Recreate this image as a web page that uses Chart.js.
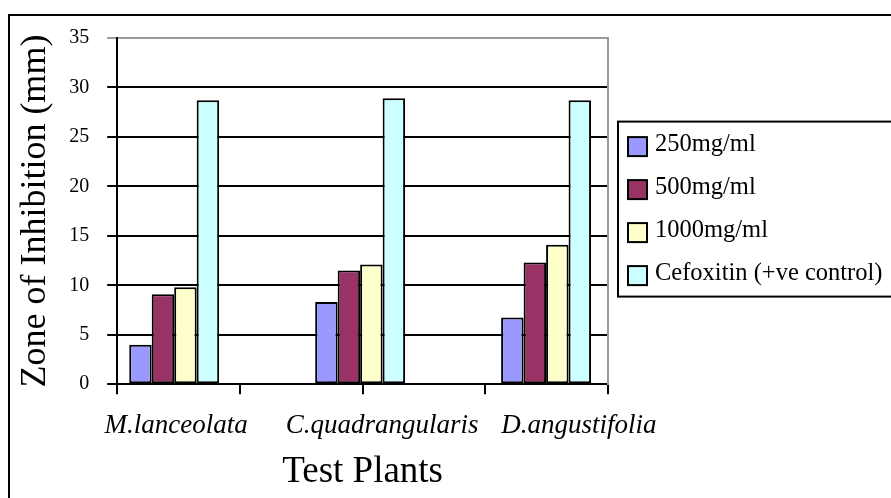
<!DOCTYPE html>
<html><head><meta charset="utf-8">
<script src="https://cdn.jsdelivr.net/npm/chart.js@4/dist/chart.umd.min.js"></script>
<style>
html,body{margin:0;padding:0;background:#fff;overflow:hidden;}
#frame{position:absolute;left:8px;top:14px;width:1000px;height:600px;border:2px solid #000;}
#wrap{position:absolute;left:0;top:0;width:891px;height:498px;}
</style></head><body>
<div id="frame"></div>
<div id="wrap"><canvas id="c" width="891" height="498"></canvas></div>
<script>
// ---- data ----
const categories = ['M.lanceolata', 'C.quadrangularis', 'D.angustifolia'];
const seriesNames = ['250mg/ml', '500mg/ml', '1000mg/ml', 'Cefoxitin (+ve control)'];
const values250 = [4.0, 8.3, 6.75];
const values500 = [9.1, 11.5, 12.3];
const values1000 = [9.8, 12.1, 14.1];
const valuesCefoxitin = [28.7, 28.9, 28.7];
const yTickValues = [0, 5, 10, 15, 20, 25, 30, 35];

// ---- style / layout ----
const FONT = "'Liberation Serif', 'Times New Roman', serif";
const colors = ['#9999FF', '#993366', '#FFFFCC', '#CCFFFF'];
const xMin = -0.3065, xMax = 2.333;
const labelPositions = [0.01, 1.118, 2.177];

const seriesValues = [values250, values500, values1000, valuesCefoxitin];
const datasets = seriesValues.map((vals, s) => ({
  label: seriesNames[s],
  data: vals.map((v, i) => ({x: i, y: v})),
  backgroundColor: colors[s],
  borderColor: '#000',
  borderWidth: 2,
  borderSkipped: false,
  categoryPercentage: 0.733,
  barPercentage: 1.0
}));

// legend drawn beside the plot area, from the chart's own datasets
const customLegend = {
  id: 'customLegend',
  afterDraw(chart) {
    const ctx = chart.ctx, a = chart.chartArea;
    const ds = chart.data.datasets;
    const spacing = 43, box = 19;
    const mid = (a.top + a.bottom) / 2;
    const first = mid - spacing * (ds.length - 1) / 2;
    const left = a.right + 10;
    ctx.save();
    ctx.lineWidth = 2;
    ctx.strokeStyle = '#000';
    ctx.strokeRect(left, first - 25, chart.width + 10 - left, spacing * (ds.length - 1) + 46);
    ctx.font = '24.5px ' + FONT;
    ctx.textBaseline = 'middle';
    ctx.textAlign = 'left';
    ds.forEach((d, i) => {
      const cy = first + i * spacing;
      ctx.fillStyle = d.backgroundColor;
      ctx.fillRect(a.right + 20, cy - box / 2, box, box);
      ctx.lineWidth = 2;
      ctx.strokeStyle = '#000';
      ctx.strokeRect(a.right + 20, cy - box / 2, box, box);
      ctx.fillStyle = '#000';
      ctx.fillText(d.label, a.right + 47, cy - 2);
    });
    ctx.restore();
  }
};

new Chart(document.getElementById('c'), {
  type: 'bar',
  data: {datasets},
  options: {
    responsive: false,
    devicePixelRatio: 1,
    animation: false,
    layout: {padding: {top: 38, left: 12, right: 283, bottom: 2}},
    plugins: {
      legend: {display: false},
      tooltip: {enabled: false}
    },
    scales: {
      x: {
        type: 'linear', position: 'bottom', min: xMin, max: xMax, offset: false,
        grid: {display: true, offset: false, drawOnChartArea: false, drawTicks: true, tickLength: 10, color: '#000', lineWidth: 2},
        border: {display: true, color: '#000', width: 2},
        ticks: {display: false},
        afterBuildTicks(scale) {
          const n = 4;
          scale.ticks = Array.from({length: n + 1}, (_, i) => ({value: scale.min + (scale.max - scale.min) * i / n}));
        }
      },
      x2: {
        type: 'linear', position: 'bottom', min: xMin, max: xMax, offset: false,
        grid: {display: false, offset: false, drawTicks: false},
        border: {display: false},
        ticks: {
          color: '#000', padding: 16, maxRotation: 0, minRotation: 0, autoSkip: false,
          font: {family: FONT, size: 27, style: 'italic'},
          callback: (v, i) => categories[i]
        },
        afterBuildTicks(scale) { scale.ticks = labelPositions.map(v => ({value: v})); },
        title: {display: true, text: 'Test Plants', color: '#000', font: {family: FONT, size: 37}, padding: {top: -9, bottom: 2}}
      },
      y: {
        min: 0, max: 35,
        afterBuildTicks(scale) { scale.ticks = yTickValues.map(v => ({value: v})); },
        grid: {
          color: (c) => (c.tick && c.tick.value === 35) ? '#9a9a9a' : '#000',
          lineWidth: 2, tickLength: 10, drawTicks: true
        },
        border: {display: true, color: '#000', width: 2},
        ticks: {color: '#000', padding: 18, font: {family: FONT, size: 20}},
        title: {display: true, text: 'Zone of Inhibition (mm)', color: '#000', font: {family: FONT, size: 36}, padding: {top: 2, bottom: -6}}
      },
      yR: {
        position: 'right', min: 0, max: 35,
        grid: {display: false, drawTicks: false},
        ticks: {display: false},
        border: {display: true, color: '#9a9a9a', width: 2}
      }
    }
  },
  plugins: [customLegend]
});
</script>
</body></html>
